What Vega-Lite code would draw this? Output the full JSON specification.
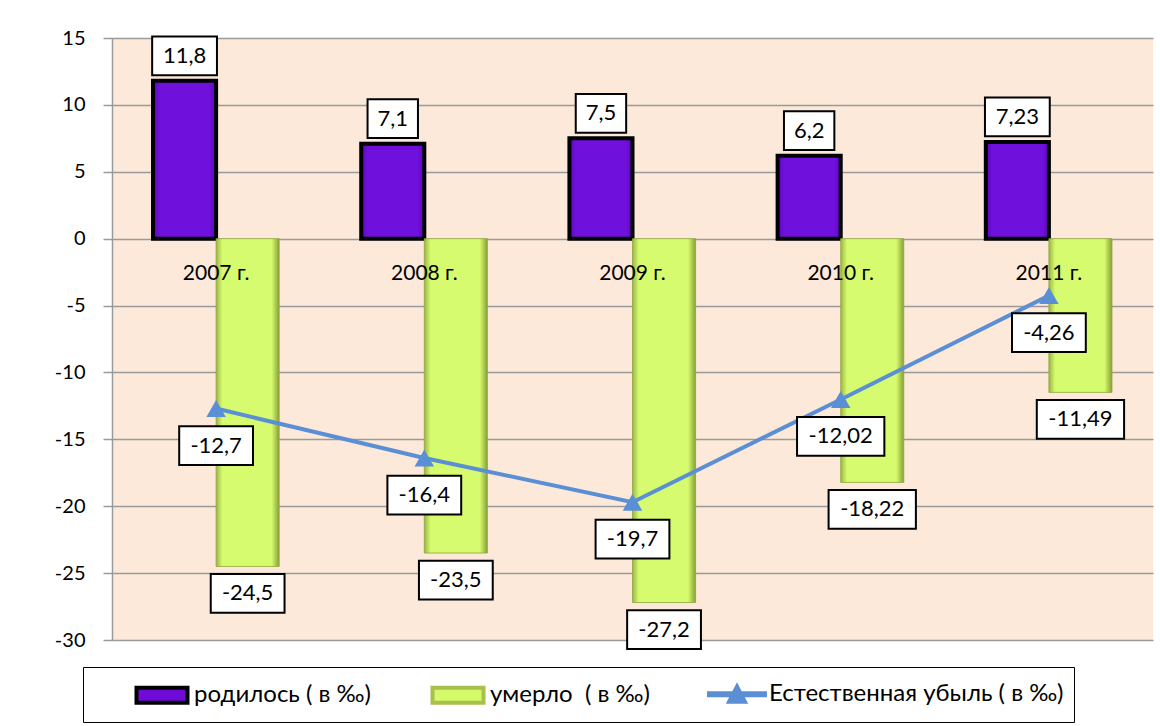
{
  "$schema": "https://vega.github.io/schema/vega-lite/v6.json",
  "width": 1041,
  "height": 602,
  "autosize": {"type": "none"},
  "padding": {"left": 112, "top": 38, "right": 7, "bottom": 86},
  "background": "white",
  "config": {"font": "Lato", "view": {"fill": "#fde9d9", "stroke": null}},
  "data": {
    "values": [
      {"year": "2007 г.", "births": 11.8, "deaths": -24.5, "net": -12.7},
      {"year": "2008 г.", "births": 7.1, "deaths": -23.5, "net": -16.4},
      {"year": "2009 г.", "births": 7.5, "deaths": -27.2, "net": -19.7},
      {"year": "2010 г.", "births": 6.2, "deaths": -18.22, "net": -12.02},
      {"year": "2011 г.", "births": 7.23, "deaths": -11.49, "net": -4.26}
    ]
  },
  "encoding": {
    "x": {"field": "year", "type": "nominal", "sort": null, "scale": {"paddingInner": 0.394, "paddingOuter": 0.197}, "axis": null}
  },
  "layer": [
    {
      "transform": [{"fold": ["births", "deaths"], "as": ["series", "value"]}],
      "mark": {"type": "bar"},
      "encoding": {
        "xOffset": {"field": "series", "type": "nominal", "scale": {"domain": ["births", "deaths"], "paddingInner": 0, "paddingOuter": 0}},
        "y": {"field": "value", "type": "quantitative", "title": null,
          "scale": {"domain": [-30, 15], "nice": false, "zero": false},
          "axis": {"values": [-30, -25, -20, -15, -10, -5, 0, 5, 10, 15], "labelExpr": "toString(datum.value)", "grid": true, "gridColor": "#9a9a9a", "gridWidth": 1.5, "domainColor": "#9a9a9a", "domainWidth": 1.5, "tickColor": "#9a9a9a", "tickWidth": 1.5, "tickSize": 9, "labelFontSize": 20, "labelColor": "#000", "labelPadding": 18, "labelFont": "Lato"}},
        "fill": {
          "condition": [
            {"test": "datum.series === 'deaths'", "value": {"gradient": "linear", "x1": 0, "x2": 1, "y1": 0, "y2": 0, "stops": [{"offset": 0, "color": "#9cb545"}, {"offset": 0.1, "color": "#d6fb6e"}, {"offset": 0.88, "color": "#d6fb6e"}, {"offset": 1, "color": "#879f36"}]}},
            {"test": "datum.series === 'births'", "value": {"gradient": "linear", "x1": 0, "x2": 1, "y1": 0, "y2": 0, "stops": [{"offset": 0, "color": "#5a06b8"}, {"offset": 0.1, "color": "#7010dc"}, {"offset": 0.9, "color": "#7010dc"}, {"offset": 1, "color": "#5a06b8"}]}}
          ],
          "field": "series", "type": "nominal",
          "scale": {"domain": ["births", "deaths"], "range": ["#700ad8", "#d4fa6a"]},
          "legend": null
        },
        "stroke": {"condition": {"test": "datum.series === 'births'", "value": "#000"}, "value": "#8ea63c"},
        "strokeWidth": {"condition": {"test": "datum.series === 'births'", "value": 4}, "value": 0.8}
      }
    },
    {
      "transform": [{"fold": ["births", "deaths", "net"], "as": ["series", "value"]}],
      "mark": {"type": "point", "filled": true, "opacity": 0, "size": 1},
      "encoding": {
        "y": {"field": "value", "type": "quantitative"},
        "color": {"field": "series", "type": "nominal",
          "scale": {"domain": ["births", "deaths", "net"], "range": ["#700ad8", "#d4fa6a", "#5b8fd5"]},
          "legend": {"orient": "none", "legendX": -29, "legendY": 629, "direction": "horizontal", "title": null, "symbolSize": 900, "symbolOffset": 52, "symbolOpacity": 1, "symbolStrokeWidth": 4, "labelFontSize": 24, "labelFont": "Lato", "labelColor": "#000", "labelOffset": 15, "labelLimit": 500, "columnPadding": 18, "padding": 10, "strokeColor": "#000", "fillColor": "#fff", "labelExpr": "datum.value === 'births' ? 'родилось ( в ‰)' : datum.value === 'deaths' ? 'умерло \u00a0( в ‰)' : 'Естественная убыль ( в ‰)'"}},
        "shape": {"field": "series", "type": "nominal",
          "scale": {"domain": ["births", "deaths", "net"], "range": ["M-1.7,-0.5H1.7V0.5H-1.7Z", "M-1.7,-0.5H1.7V0.5H-1.7Z", "M-2,-0.2H2V0.2H-2Z M0,-0.8L0.75,0.62H-0.75Z"]},
          "legend": {"orient": "none", "legendX": -29, "legendY": 629, "direction": "horizontal", "title": null, "symbolSize": 900, "symbolOffset": 52, "symbolOpacity": 1, "symbolStrokeWidth": 4, "labelFontSize": 24, "labelFont": "Lato", "labelColor": "#000", "labelOffset": 15, "labelLimit": 500, "columnPadding": 18, "padding": 10, "strokeColor": "#000", "fillColor": "#fff", "labelExpr": "datum.value === 'births' ? 'родилось ( в ‰)' : datum.value === 'deaths' ? 'умерло \u00a0( в ‰)' : 'Естественная убыль ( в ‰)'"}},
        "stroke": {"field": "series", "type": "nominal",
          "scale": {"domain": ["births", "deaths", "net"], "range": ["#000000", "#a8c04c", "transparent"]},
          "legend": {"orient": "none", "legendX": -29, "legendY": 629, "direction": "horizontal", "title": null, "symbolSize": 900, "symbolOffset": 52, "symbolOpacity": 1, "symbolStrokeWidth": 4, "labelFontSize": 24, "labelFont": "Lato", "labelColor": "#000", "labelOffset": 15, "labelLimit": 500, "columnPadding": 18, "padding": 10, "strokeColor": "#000", "fillColor": "#fff", "labelExpr": "datum.value === 'births' ? 'родилось ( в ‰)' : datum.value === 'deaths' ? 'умерло \u00a0( в ‰)' : 'Естественная убыль ( в ‰)'"}}
      }
    },
    {
      "mark": {"type": "text", "fontSize": 21, "color": "#000", "baseline": "middle"},
      "encoding": {"y": {"datum": -2.65}, "text": {"field": "year"}}
    },
    {
      "mark": {"type": "line", "strokeWidth": 4, "color": "#5b8fd5", "point": {"shape": "triangle-up", "size": 380, "filled": true, "color": "#5b8fd5", "opacity": 1}},
      "encoding": {"y": {"field": "net", "type": "quantitative"}}
    },
    {
      "transform": [{"fold": ["births", "deaths"], "as": ["series", "value"]}, {"filter": "datum.series === 'births'"}, {"calculate": "replace(toString(datum.value), '.', ',')", "as": "label"}],
      "mark": {"type": "point", "filled": true, "fill": "#fff", "stroke": "#000", "strokeWidth": 2, "opacity": 1, "size": 8100, "yOffset": -25},
      "encoding": {
        "xOffset": {"field": "series", "type": "nominal"},
        "y": {"field": "value", "type": "quantitative"},
        "shape": {"condition": [{"test": "length(datum.label) <= 3", "value": "M-0.56,-0.43H0.56V0.43H-0.56Z"}, {"test": "length(datum.label) == 4", "value": "M-0.72,-0.43H0.72V0.43H-0.72Z"}, {"test": "length(datum.label) == 5", "value": "M-0.82,-0.43H0.82V0.43H-0.82Z"}], "value": "M-0.97,-0.43H0.97V0.43H-0.97Z"}
      }
    },
    {
      "transform": [{"fold": ["births", "deaths"], "as": ["series", "value"]}, {"filter": "datum.series === 'births'"}, {"calculate": "replace(toString(datum.value), '.', ',')", "as": "label"}],
      "mark": {"type": "text", "fontSize": 22, "color": "#000", "baseline": "middle", "yOffset": -25},
      "encoding": {
        "xOffset": {"field": "series", "type": "nominal"},
        "y": {"field": "value", "type": "quantitative"},
        "text": {"field": "label"}
      }
    },
    {
      "transform": [{"fold": ["births", "deaths"], "as": ["series", "value"]}, {"filter": "datum.series === 'deaths'"}, {"calculate": "replace(toString(datum.value), '.', ',')", "as": "label"}],
      "mark": {"type": "point", "filled": true, "fill": "#fff", "stroke": "#000", "strokeWidth": 2, "opacity": 1, "size": 8100, "yOffset": 27},
      "encoding": {
        "xOffset": {"field": "series", "type": "nominal"},
        "y": {"field": "value", "type": "quantitative"},
        "shape": {"condition": [{"test": "length(datum.label) <= 3", "value": "M-0.56,-0.43H0.56V0.43H-0.56Z"}, {"test": "length(datum.label) == 4", "value": "M-0.72,-0.43H0.72V0.43H-0.72Z"}, {"test": "length(datum.label) == 5", "value": "M-0.82,-0.43H0.82V0.43H-0.82Z"}], "value": "M-0.97,-0.43H0.97V0.43H-0.97Z"}
      }
    },
    {
      "transform": [{"fold": ["births", "deaths"], "as": ["series", "value"]}, {"filter": "datum.series === 'deaths'"}, {"calculate": "replace(toString(datum.value), '.', ',')", "as": "label"}],
      "mark": {"type": "text", "fontSize": 22, "color": "#000", "baseline": "middle", "yOffset": 27},
      "encoding": {
        "xOffset": {"field": "series", "type": "nominal"},
        "y": {"field": "value", "type": "quantitative"},
        "text": {"field": "label"}
      }
    },
    {
      "transform": [{"calculate": "replace(toString(datum.net), '.', ',')", "as": "label"}],
      "mark": {"type": "point", "filled": true, "fill": "#fff", "stroke": "#000", "strokeWidth": 2, "opacity": 1, "size": 8100, "yOffset": 37},
      "encoding": {
        "y": {"field": "net", "type": "quantitative"},
        "shape": {"condition": [{"test": "length(datum.label) <= 3", "value": "M-0.56,-0.43H0.56V0.43H-0.56Z"}, {"test": "length(datum.label) == 4", "value": "M-0.72,-0.43H0.72V0.43H-0.72Z"}, {"test": "length(datum.label) == 5", "value": "M-0.82,-0.43H0.82V0.43H-0.82Z"}], "value": "M-0.97,-0.43H0.97V0.43H-0.97Z"}
      }
    },
    {
      "transform": [{"calculate": "replace(toString(datum.net), '.', ',')", "as": "label"}],
      "mark": {"type": "text", "fontSize": 22, "color": "#000", "baseline": "middle", "yOffset": 37},
      "encoding": {
        "y": {"field": "net", "type": "quantitative"},
        "text": {"field": "label"}
      }
    }
  ]
}
